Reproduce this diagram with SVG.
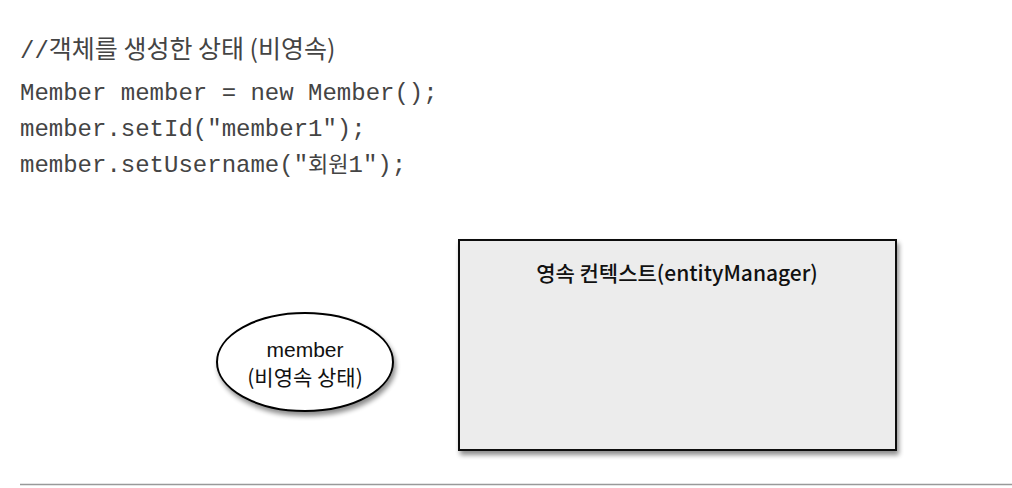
<svg xmlns="http://www.w3.org/2000/svg" width="1012" height="488" viewBox="0 0 1012 488">
<defs>
<filter id="sh" x="-10%" y="-10%" width="130%" height="130%">
<feGaussianBlur in="SourceAlpha" stdDeviation="2.5"/>
<feOffset dx="2" dy="4" result="b"/>
<feComponentTransfer><feFuncA type="linear" slope="0.45"/></feComponentTransfer>
<feMerge><feMergeNode/><feMergeNode in="SourceGraphic"/></feMerge>
</filter>
<style>
.code{font-family:"Liberation Mono","Noto Sans CJK KR",monospace;font-size:24px;fill:#444}
.kr{font-family:"Noto Sans CJK KR","Noto Sans",sans-serif}
.lbl{font-family:"Noto Sans CJK KR","Noto Sans",sans-serif;font-size:21px;fill:#111;text-anchor:middle}
.en{font-family:"Liberation Sans","Noto Sans",sans-serif;font-size:21px;fill:#111;text-anchor:middle}
</style>
</defs>
<rect width="1012" height="488" fill="#fff"/>
<g id="code">
<text class="code" x="20" y="58">//<tspan class="kr" font-size="25">객체를 생성한 상태 (비영속)</tspan></text>
<text class="code" x="20" y="100">Member member = new Member();</text>
<text class="code" x="20" y="136">member.setId("member1");</text>
<text class="code" x="20" y="172">member.setUsername("<tspan class="kr" font-size="22">회원</tspan>1");</text>
</g>
<g id="member">
<ellipse cx="305" cy="362" rx="88" ry="49" fill="#fff" stroke="#000" stroke-width="2" filter="url(#sh)"/>
<text class="en" x="305" y="357">member</text>
<text class="lbl" x="305" y="385" font-size="20">(비영속 상태)</text>
</g>
<g id="context">
<rect x="459" y="240" width="437" height="210" fill="#ececec" stroke="#111" stroke-width="2" filter="url(#sh)"/>
<text class="lbl" x="677" y="281" font-weight="500" font-size="22">영속 컨텍스트(entityManager)</text>
</g>
<g id="connectors"></g>
<line x1="20" y1="484.5" x2="1012" y2="484.5" stroke="#999" stroke-width="1.5"/>
</svg>
